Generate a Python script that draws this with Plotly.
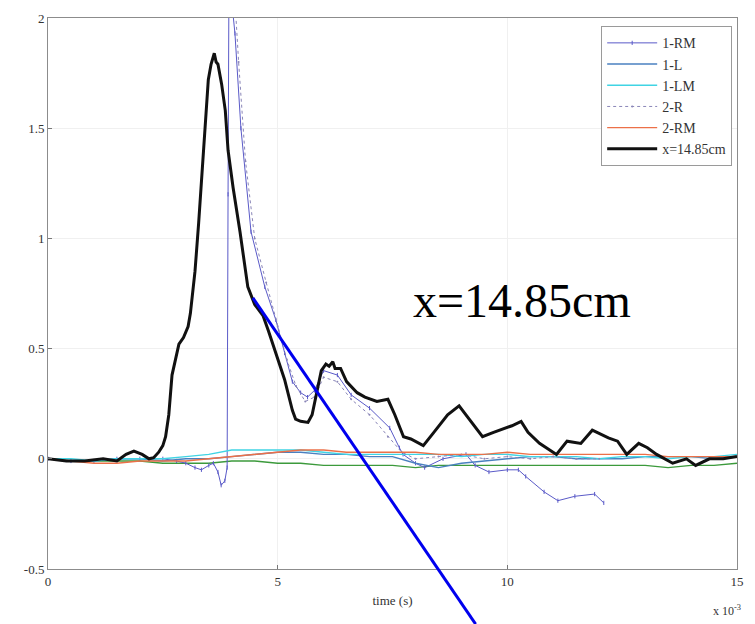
import plotly.graph_objects as go

# ---- data (time in units of 1e-3 s) ----
black_t = [0, 0.4, 0.8, 1.2, 1.5, 1.7, 1.87, 2.05, 2.2, 2.3, 2.41, 2.5, 2.56, 2.63, 2.7, 2.78, 2.85, 2.95,
           3.05, 3.1, 3.2, 3.28, 3.4, 3.49, 3.55, 3.62, 3.66, 3.7, 3.78, 3.86, 3.92, 4.03, 4.18, 4.35, 4.5,
           4.68, 4.8, 4.93, 5.05, 5.15, 5.32, 5.39, 5.5, 5.66, 5.75, 5.85, 5.95, 6.05, 6.12, 6.2, 6.25, 6.37,
           6.5, 6.73, 6.9, 7.16, 7.4, 7.55, 7.74, 7.9, 8.17, 8.4, 8.7, 8.95, 9.1, 9.46, 9.7, 10.1, 10.3,
           10.45, 10.7, 11.07, 11.3, 11.6, 11.85, 12.2, 12.4, 12.6, 12.86, 13.05, 13.25, 13.6, 13.9, 14.1,
           14.4, 14.7, 15.0]
black_v = [0, -0.01, -0.01, 0.0, -0.01, 0.02, 0.035, 0.02, 0.0, 0.005, 0.03, 0.06, 0.1, 0.2, 0.38, 0.46, 0.52, 0.55,
           0.6, 0.66, 0.85, 1.07, 1.45, 1.72, 1.79, 1.84, 1.8, 1.79, 1.7, 1.58, 1.4, 1.23, 1.03, 0.78, 0.7,
           0.65, 0.58, 0.5, 0.43, 0.36, 0.22, 0.18, 0.17, 0.165, 0.2, 0.3, 0.4, 0.43, 0.42, 0.44, 0.41, 0.41,
           0.35, 0.3, 0.28, 0.26, 0.27, 0.2, 0.1, 0.09, 0.06, 0.12, 0.2, 0.24, 0.2, 0.1, 0.12, 0.15, 0.17,
           0.12, 0.07, 0.02, 0.08, 0.07, 0.13, 0.095, 0.08, 0.02, 0.07, 0.05, 0.02, -0.02, 0.0, -0.03,
           0.0, 0.0, 0.01]

rm1_t = [0, 0.5, 1, 1.5, 2, 2.5, 2.8, 3.0, 3.2, 3.34, 3.5, 3.6, 3.7, 3.77, 3.85, 3.9, 3.92, 3.94, 4.07, 4.2,
         4.42, 4.72, 4.96, 5.15, 5.32, 5.5, 5.65, 5.8, 6.0, 6.3, 6.6, 7.0, 7.44, 7.65, 7.73, 8.0, 8.2, 8.6,
         9.1, 9.3, 9.6, 10.0, 10.24, 10.4, 10.8, 11.1, 11.47, 11.9, 12.1]
rm1_v = [0, -0.01, -0.01, 0, 0, 0, -0.01, -0.02, -0.04, -0.05, -0.03, -0.02, -0.06, -0.12, -0.1, -0.04, 1.2, 2.2,
         1.93, 1.5, 1.03, 0.78, 0.63, 0.48, 0.35, 0.3, 0.28, 0.31, 0.4, 0.38, 0.29, 0.23, 0.14, 0.05, 0.02,
         -0.02, -0.04, 0.0, 0.02, -0.03, -0.06, -0.05, -0.05, -0.08, -0.15, -0.19, -0.17, -0.16, -0.2]

r2_t = [4.05, 4.15, 4.3, 4.5, 4.75, 5.0, 5.2, 5.4, 5.6, 5.8, 6.0, 6.3, 6.6, 7.0, 7.4, 7.7, 8.0, 8.5,
        9.0, 9.5, 10.0, 10.5, 11.0, 11.5, 12.0]
r2_v = [2.15, 1.8, 1.35, 1.0, 0.8, 0.6, 0.45, 0.33, 0.26, 0.28, 0.37, 0.35, 0.27, 0.2, 0.1, 0.03, 0.0, 0.01,
        0.02, 0.0, 0.01, 0.0, 0.01, 0.0, 0.0]

base_t = [0, 0.5, 1, 1.5, 2, 2.5, 3, 3.5, 4, 4.5, 5, 5.5, 6, 6.5, 7, 7.5, 8, 8.5, 9, 9.5, 10,
          10.5, 11, 11.5, 12, 12.5, 13, 13.5, 14, 14.5, 15]
l1_v = [0, -0.01, -0.01, 0, 0, -0.01, 0, 0, 0.01, 0.02, 0.03, 0.03, 0.02, 0.02, 0.01, 0.01, -0.02, -0.04,
        -0.02, -0.01, 0, 0.01, 0.01, 0, 0, 0, 0.01, 0.01, 0.01, 0.0, 0.01]
lm1_v = [0, 0, -0.01, 0, 0, 0, 0.01, 0.02, 0.04, 0.04, 0.04, 0.04, 0.03, 0.02, 0.02, 0.02, 0.02, 0.02,
         0.01, 0.02, 0.02, 0.01, 0.01, 0.01, 0.0, 0.01, 0.01, 0.0, 0.01, 0.01, 0.02]
rm2_v = [0, -0.01, -0.02, -0.02, -0.01, -0.01, -0.01, 0, 0.01, 0.02, 0.03, 0.04, 0.04, 0.03, 0.03, 0.03,
         0.03, 0.02, 0.02, 0.02, 0.03, 0.02, 0.02, 0.02, 0.02, 0.02, 0.02, 0.01, 0.01, 0.01, 0.01]
green_v = [0, -0.01, -0.01, -0.01, -0.01, -0.02, -0.02, -0.02, -0.01, -0.01, -0.02, -0.02, -0.03, -0.03,
           -0.03, -0.03, -0.04, -0.03, -0.03, -0.03, -0.03, -0.03, -0.03, -0.03, -0.03, -0.03, -0.03,
           -0.04, -0.03, -0.03, -0.02]

x_ticks = [0, 5, 10, 15]
y_ticks = [-0.5, 0, 0.5, 1, 1.5, 2]
label_text = "x=14.85cm"
label_pos = (10.31, 0.72)
arrow_start = (4.46, 0.73)
arrow_end = (9.31, -0.75)

X_RANGE = [0, 15]
Y_RANGE = [-0.5, 2]

SERIF = "Liberation Serif, Times New Roman, serif"

fig = go.Figure()

fig.add_trace(go.Scatter(x=base_t, y=green_v, mode="lines", name="green",
                         line=dict(color="#3c9a3c", width=1.4), showlegend=False))
fig.add_trace(go.Scatter(x=rm1_t, y=rm1_v, mode="lines+markers", name="1-RM",
                         line=dict(color="#5a5ac8", width=1),
                         marker=dict(symbol="line-ns", size=3, color="#5a5ac8",
                                     line=dict(width=1, color="#5a5ac8"))))
fig.add_trace(go.Scatter(x=base_t, y=l1_v, mode="lines", name="1-L",
                         line=dict(color="#4a80c0", width=1.4)))
fig.add_trace(go.Scatter(x=base_t, y=lm1_v, mode="lines", name="1-LM",
                         line=dict(color="#40d4e4", width=1.4)))
fig.add_trace(go.Scatter(x=r2_t, y=r2_v, mode="lines+markers", name="2-R",
                         line=dict(color="#8a86b8", width=1, dash="dot"),
                         marker=dict(size=2, color="#8a86b8")))
fig.add_trace(go.Scatter(x=base_t, y=rm2_v, mode="lines", name="2-RM",
                         line=dict(color="#ec7048", width=1.4)))
fig.add_trace(go.Scatter(x=black_t, y=black_v, mode="lines", name="x=14.85cm",
                         line=dict(color="#111111", width=3)))

fig.add_annotation(x=label_pos[0], y=label_pos[1], xref="x", yref="y", text=label_text,
                   showarrow=False, font=dict(family=SERIF, size=48, color="#000000"),
                   xanchor="center", yanchor="middle")


def to_paper(pt):
    px = (pt[0] - X_RANGE[0]) / (X_RANGE[1] - X_RANGE[0])
    py = (pt[1] - Y_RANGE[0]) / (Y_RANGE[1] - Y_RANGE[0])
    return px, py


p0 = to_paper(arrow_start)
p1 = to_paper(arrow_end)
fig.add_shape(type="line", xref="paper", yref="paper", x0=p0[0], y0=p0[1], x1=p1[0], y1=p1[1],
              line=dict(color="#0000ee", width=3), layer="above")

fig.add_annotation(x=0.985, y=-0.075, xref="paper", yref="paper", text="x 10<sup>-3</sup>",
                   showarrow=False, font=dict(family=SERIF, size=12, color="#333333"),
                   xanchor="center", yanchor="middle")

axis_common = dict(showline=True, linecolor="#8c8c8c", linewidth=1, mirror=True,
                   ticks="inside", ticklen=4, tickcolor="#777777",
                   showgrid=True, gridcolor="#f0f0f0", gridwidth=1, zeroline=False,
                   tickfont=dict(family=SERIF, size=13, color="#333333"))

fig.update_layout(
    width=755, height=624,
    margin=dict(l=48, r=11, t=14, b=55),
    paper_bgcolor="white", plot_bgcolor="white",
    xaxis=dict(range=X_RANGE, tickvals=x_ticks, ticktext=[str(v) for v in x_ticks],
               title=dict(text="time (s)", font=dict(family=SERIF, size=13, color="#333333"),
                          standoff=8),
               **axis_common),
    yaxis=dict(range=Y_RANGE, tickvals=y_ticks, ticktext=[("%g" % v) for v in y_ticks],
               **axis_common),
    legend=dict(x=0.993, y=0.985, xanchor="right", yanchor="top",
                bgcolor="white", bordercolor="#9a9a9a", borderwidth=1,
                font=dict(family=SERIF, size=14, color="#333333"),
                itemwidth=50, tracegroupgap=0),
    showlegend=True,
)

fig.write_html("out.html")
